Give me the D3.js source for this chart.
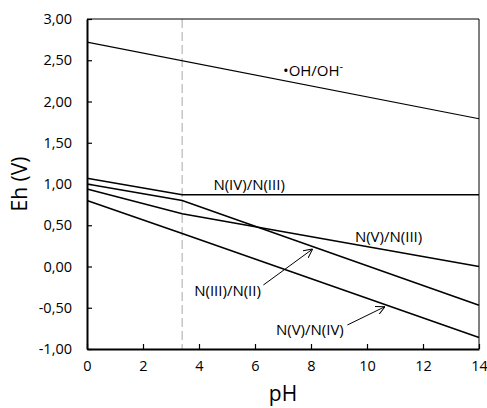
<!DOCTYPE html>
<html>
<head>
<meta charset="utf-8">
<script src="https://cdn.jsdelivr.net/npm/d3@7"></script>
<style>
  body { margin: 0; background: #fff; }
  text { font-family: "Open Sans", sans-serif; fill: #000; }
</style>
</head>
<body>
<div id="chart"></div>
<script>
// breakpoints along pH for the nitrogen couples
const pHPoints = [0, 3.4, 14];
const nIVnIII = [1.07, 0.87, 0.87];
const nIIInII = [1.00, 0.80, -0.47];
const nVnIII = [0.94, 0.64, 0.00];
const nVnIV = [0.80, 0.40, -0.86];

// hydroxyl radical couple
const ohPH = [0, 14];
const ohEh = [2.72, 1.79];

const dashedPH = 3.4;
const xTicks = [0, 2, 4, 6, 8, 10, 12, 14];
const yTicks = [-1, -0.5, 0, 0.5, 1, 1.5, 2, 2.5, 3];

// labels: [text, pH, Eh]
const labels = [
  ['N(IV)/N(III)', 5.79, 0.93],
  ['N(V)/N(III)', 10.77, 0.30],
  ['N(III)/N(II)', 5.02, -0.355],
  ['N(V)/N(IV)', 7.96, -0.83]
];
// arrows: [fromPH, fromEh, toPH, toEh]
const arrows = [
  [6.30, -0.224, 8.06, 0.212],
  [9.30, -0.709, 10.64, -0.487]
];

const width = 487, height = 408;
const margin = {top: 19, right: 8, bottom: 59, left: 87};

const svg = d3.select('#chart').append('svg')
  .attr('width', width)
  .attr('height', height);

const x = d3.scaleLinear().domain([0, 14]).range([margin.left, width - margin.right]);
const y = d3.scaleLinear().domain([-1, 3]).range([height - margin.bottom, margin.top]);

const loc = d3.formatLocale({decimal: ',', thousands: '.', grouping: [3], currency: ['', ''], minus: '-'});
const fmt = loc.format('.2f');

// dashed pH marker
svg.append('line')
  .attr('x1', x(dashedPH)).attr('x2', x(dashedPH))
  .attr('y1', y(3)).attr('y2', y(-1))
  .attr('stroke', '#c6c6c6')
  .attr('stroke-width', 1.5)
  .attr('stroke-dasharray', '9,4');

// frame top/right
svg.append('path')
  .attr('d', `M${x(0)},${y(3)}H${x(14)}V${y(-1)}`)
  .attr('fill', 'none')
  .attr('stroke', '#000')
  .attr('stroke-width', 1);

const line = d3.line().x(d => x(d[0])).y(d => y(d[1]));

[nIVnIII, nIIInII, nVnIII, nVnIV].forEach(s => {
  svg.append('path')
    .attr('d', line(pHPoints.map((p, i) => [p, s[i]])))
    .attr('fill', 'none')
    .attr('stroke', '#000')
    .attr('stroke-width', 1.6);
});

svg.append('path')
  .attr('d', line(ohPH.map((p, i) => [p, ohEh[i]])))
  .attr('fill', 'none')
  .attr('stroke', '#000')
  .attr('stroke-width', 1.1);

// axes
const xAxis = svg.append('g')
  .attr('transform', `translate(0,${y(-1)})`)
  .call(d3.axisBottom(x).tickValues(xTicks).tickSizeInner(-5).tickSizeOuter(0).tickPadding(12));
const yAxis = svg.append('g')
  .attr('transform', `translate(${x(0)},0)`)
  .call(d3.axisLeft(y).tickValues(yTicks).tickFormat(fmt).tickSizeInner(-5).tickSizeOuter(0).tickPadding(15));

[xAxis, yAxis].forEach(a => {
  a.select('.domain').attr('stroke', '#000').attr('stroke-width', 2);
  a.selectAll('.tick line').attr('stroke', '#000').attr('stroke-width', 1.2);
  a.selectAll('.tick text').style('font-size', '14.5px').attr('fill', '#000');
});

// axis titles
svg.append('text')
  .attr('x', x(7) + 0)
  .attr('y', 401)
  .attr('text-anchor', 'middle')
  .style('font-size', '21px')
  .text('pH');

svg.append('text')
  .attr('transform', `translate(27,${y(1)}) rotate(-90)`)
  .attr('text-anchor', 'middle')
  .style('font-size', '21px')
  .text('Eh (V)');

// curve labels
labels.forEach(l => {
  svg.append('text')
    .attr('x', x(l[1]))
    .attr('y', y(l[2]))
    .attr('text-anchor', 'middle')
    .style('font-size', '15px')
    .text(l[0]);
});

const oh = svg.append('text')
  .attr('x', x(7.0))
  .attr('y', y(2.31))
  .style('font-size', '15px');
oh.append('tspan').text('•OH/OH');
oh.append('tspan').attr('dy', -6).style('font-size', '11px').text('-');

// arrows with open heads
svg.append('defs').append('marker')
  .attr('id', 'head')
  .attr('viewBox', '0 0 10 10')
  .attr('refX', 10).attr('refY', 5)
  .attr('markerWidth', 9).attr('markerHeight', 9)
  .attr('markerUnits', 'userSpaceOnUse')
  .attr('orient', 'auto')
  .append('path')
  .attr('d', 'M0,0L10,5L0,10')
  .attr('fill', 'none')
  .attr('stroke', '#000')
  .attr('stroke-width', 1.1);

arrows.forEach(a => {
  svg.append('line')
    .attr('x1', x(a[0])).attr('y1', y(a[1]))
    .attr('x2', x(a[2])).attr('y2', y(a[3]))
    .attr('stroke', '#000')
    .attr('stroke-width', 1)
    .attr('marker-end', 'url(#head)');
});
</script>
</body>
</html>
